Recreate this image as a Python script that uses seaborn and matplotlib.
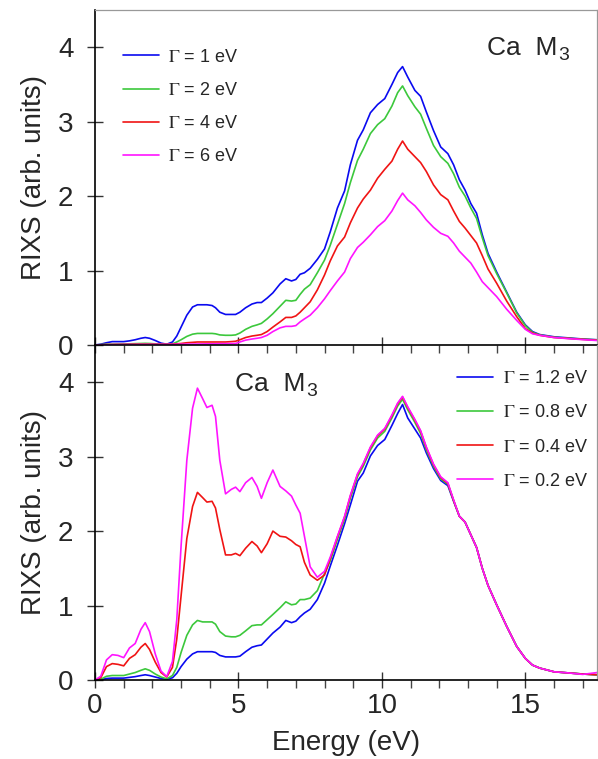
import numpy as np
import pandas as pd
import matplotlib
matplotlib.use("Agg")
import matplotlib.pyplot as plt
from matplotlib.ticker import MultipleLocator
import seaborn as sns

# ---------------- data ----------------
energy = [0, 0.2, 0.4, 0.6, 0.8, 1.0, 1.2, 1.4, 1.6,
          1.75, 1.9, 2.1, 2.3, 2.5, 2.7, 2.85,
          3.0, 3.2, 3.4, 3.57, 3.75, 3.9, 4.08, 4.2, 4.35, 4.55, 4.75, 4.9,
          5.05, 5.25, 5.47, 5.65, 5.8, 6.0, 6.2, 6.45, 6.65, 6.85,
          7.0, 7.15, 7.3, 7.5, 7.75,
          8.0, 8.2, 8.45, 8.7, 8.9, 9.15, 9.35, 9.6, 9.85,
          10.1, 10.35, 10.55, 10.72, 10.9, 11.15, 11.35, 11.55, 11.8,
          12.05, 12.3, 12.5, 12.7, 12.9, 13.1, 13.3, 13.5, 13.7,
          14.0, 14.35, 14.7, 15.0, 15.25, 15.5, 16.0, 16.5, 17.0, 17.5]

# upper panel
top_g1 = [0.0, 0.01, 0.03, 0.045, 0.045, 0.045, 0.055, 0.07, 0.09,
          0.1, 0.09, 0.06, 0.025, 0.01, 0.04, 0.12,
          0.24, 0.4, 0.51, 0.54, 0.54, 0.54, 0.53, 0.5, 0.44, 0.41, 0.41, 0.41,
          0.44, 0.5, 0.55, 0.57, 0.57, 0.63, 0.7, 0.82, 0.89, 0.86,
          0.88, 0.95, 0.97, 1.03, 1.15,
          1.29, 1.52, 1.84, 2.07, 2.42, 2.75, 2.89, 3.12, 3.23,
          3.31, 3.5, 3.66, 3.74, 3.6, 3.42, 3.34, 3.13, 2.88,
          2.66, 2.57, 2.42, 2.22, 2.08, 1.9, 1.77, 1.48, 1.23,
          0.98, 0.71, 0.44, 0.27, 0.18, 0.14, 0.11, 0.095, 0.08, 0.07]
top_g2 = [0, 0.005, 0.01, 0.01, 0.012, 0.013, 0.015, 0.018, 0.02,
          0.022, 0.02, 0.015, 0.01, 0.008, 0.015, 0.04,
          0.07, 0.115, 0.145, 0.155, 0.155, 0.155, 0.155, 0.15, 0.135, 0.13, 0.13, 0.135,
          0.16, 0.21, 0.25, 0.27, 0.29, 0.35, 0.42, 0.52, 0.6, 0.59,
          0.6, 0.68, 0.75, 0.81, 0.97,
          1.14, 1.34, 1.62, 1.9, 2.18, 2.48, 2.63, 2.84, 2.96,
          3.04, 3.21, 3.39, 3.48, 3.35, 3.2, 3.1, 2.91, 2.68,
          2.53, 2.44, 2.3, 2.12, 2.0, 1.84, 1.7, 1.44, 1.2,
          0.96, 0.7, 0.43, 0.26, 0.17, 0.135, 0.105, 0.09, 0.078, 0.068]
top_g4 = [0, 0.003, 0.005, 0.006, 0.007, 0.008, 0.009, 0.01, 0.01,
          0.01, 0.01, 0.01, 0.01, 0.01, 0.012, 0.015,
          0.02, 0.03, 0.035, 0.04, 0.04, 0.04, 0.04, 0.04, 0.04, 0.04, 0.045, 0.05,
          0.07, 0.1, 0.12, 0.13, 0.14, 0.18, 0.24, 0.31, 0.37, 0.37,
          0.39, 0.44, 0.5, 0.58, 0.74,
          0.94, 1.13, 1.33, 1.45, 1.64, 1.84, 1.96, 2.08, 2.24,
          2.36, 2.47, 2.63, 2.74, 2.63, 2.53, 2.45, 2.33, 2.15,
          2.02, 1.95, 1.8, 1.66, 1.57, 1.47, 1.37, 1.2, 1.02,
          0.83, 0.59, 0.38, 0.22, 0.16, 0.13, 0.1, 0.088, 0.075, 0.065]
top_g6 = [0, 0.002, 0.003, 0.004, 0.005, 0.005, 0.006, 0.006, 0.007,
          0.007, 0.007, 0.007, 0.007, 0.007, 0.008, 0.009,
          0.01, 0.011, 0.012, 0.013, 0.014, 0.015, 0.015, 0.016, 0.017, 0.018, 0.019, 0.02,
          0.04, 0.065, 0.08, 0.09, 0.1, 0.13, 0.18, 0.23, 0.25, 0.25,
          0.26, 0.31, 0.35, 0.4, 0.5,
          0.62, 0.73, 0.86, 0.98, 1.16, 1.31, 1.38, 1.48, 1.59,
          1.67, 1.8, 1.94, 2.04, 1.95, 1.87, 1.78, 1.68, 1.58,
          1.5, 1.46, 1.37, 1.26, 1.18, 1.1, 0.98, 0.85, 0.77,
          0.65, 0.48, 0.33, 0.21, 0.15, 0.13, 0.1, 0.085, 0.072, 0.06]

# lower panel
bot_g12 = [0, 0.005, 0.02, 0.025, 0.025, 0.025, 0.035, 0.045, 0.06,
           0.07, 0.06, 0.04, 0.02, 0.01, 0.03, 0.09,
           0.18, 0.28, 0.35, 0.38, 0.38, 0.38, 0.38, 0.37, 0.33, 0.31, 0.31, 0.31,
           0.32, 0.38, 0.44, 0.46, 0.47, 0.55, 0.63, 0.71, 0.8, 0.77,
           0.79, 0.85, 0.9, 0.95, 1.08,
           1.3, 1.53, 1.81, 2.1, 2.35, 2.67, 2.78, 3.01, 3.15,
           3.23, 3.42, 3.58, 3.7, 3.52, 3.37, 3.25, 3.05, 2.84,
           2.68, 2.61, 2.4, 2.2, 2.12, 1.95, 1.78, 1.5, 1.27,
           1.01, 0.72, 0.45, 0.29, 0.2, 0.16, 0.11, 0.095, 0.08, 0.07]
bot_g08 = [0, 0.01, 0.05, 0.06, 0.06, 0.06, 0.08, 0.1, 0.13,
           0.15, 0.13, 0.08, 0.04, 0.015, 0.06, 0.17,
           0.37, 0.6, 0.74, 0.8, 0.78, 0.78, 0.78, 0.75, 0.65, 0.59, 0.58, 0.58,
           0.6, 0.66, 0.73, 0.74, 0.74, 0.81, 0.88, 0.97, 1.05, 1.01,
           1.02, 1.08, 1.08, 1.1, 1.2,
           1.43, 1.6, 1.89, 2.16, 2.44, 2.73, 2.87, 3.09, 3.25,
           3.34, 3.52, 3.68, 3.77, 3.63, 3.46, 3.31, 3.09, 2.87,
           2.7, 2.63, 2.41, 2.2, 2.12, 1.95, 1.78, 1.5, 1.27,
           1.01, 0.72, 0.45, 0.29, 0.2, 0.16, 0.11, 0.095, 0.08, 0.07]
bot_g04 = [0, 0.03, 0.18, 0.22, 0.21, 0.19, 0.29, 0.34, 0.44,
           0.49, 0.41, 0.24, 0.1, 0.04, 0.17, 0.55,
           1.13, 1.9, 2.33, 2.52, 2.45, 2.39, 2.4, 2.31, 2.02, 1.68, 1.68, 1.7,
           1.67, 1.77, 1.86, 1.8, 1.71, 1.83, 2.0, 1.93, 1.92, 1.87,
           1.82, 1.79, 1.58, 1.41, 1.34,
           1.41, 1.63, 1.92, 2.19, 2.47, 2.76, 2.9, 3.12, 3.28,
           3.37, 3.55, 3.71, 3.8, 3.66, 3.49, 3.34, 3.12, 2.89,
           2.72, 2.64, 2.41, 2.2, 2.12, 1.95, 1.78, 1.5, 1.27,
           1.01, 0.72, 0.45, 0.29, 0.2, 0.16, 0.11, 0.095, 0.08, 0.07]
bot_g02 = [0, 0.05, 0.27, 0.34, 0.33, 0.3, 0.43, 0.49, 0.68,
           0.77, 0.65, 0.35, 0.12, 0.045, 0.25, 0.81,
           1.8, 2.95, 3.65, 3.92, 3.78, 3.66, 3.69, 3.54, 2.95, 2.5, 2.56, 2.59,
           2.53, 2.65, 2.72, 2.6, 2.44, 2.65, 2.82, 2.6, 2.54, 2.47,
           2.35, 2.24, 1.93, 1.52, 1.38,
           1.46, 1.65, 1.93, 2.2, 2.48, 2.77, 2.91, 3.13, 3.29,
           3.38, 3.56, 3.72, 3.81, 3.67, 3.5, 3.35, 3.13, 2.9,
           2.73, 2.65, 2.42, 2.2, 2.12, 1.95, 1.78, 1.5, 1.27,
           1.01, 0.72, 0.45, 0.29, 0.2, 0.16, 0.11, 0.095, 0.075, 0.1]

top_labels = [r"$\Gamma$ = 1 eV", r"$\Gamma$ = 2 eV", r"$\Gamma$ = 4 eV", r"$\Gamma$ = 6 eV"]
bot_labels = [r"$\Gamma$ = 1.2 eV", r"$\Gamma$ = 0.8 eV", r"$\Gamma$ = 0.4 eV", r"$\Gamma$ = 0.2 eV"]
colors = ["#0a0af0", "#3cc83c", "#f01414", "#ff14ff"]

x_ticks = [0, 5, 10, 15]
y_ticks = [0, 1, 2, 3, 4]

# ---------------- style ----------------
sns.set_style("ticks")
plt.rcParams["font.family"] = ["Liberation Sans", "DejaVu Sans"]
plt.rcParams["mathtext.fontset"] = "stix"


def long_frame(series, labels):
    frames = []
    for vals, lab in zip(series, labels):
        frames.append(pd.DataFrame({"energy": energy, "rixs": vals, "gamma": lab}))
    return pd.concat(frames, ignore_index=True)


df_top = long_frame([top_g1, top_g2, top_g4, top_g6], top_labels)
df_bot = long_frame([bot_g12, bot_g08, bot_g04, bot_g02], bot_labels)

fig = plt.figure(figsize=(5.98, 7.59), dpi=100)
ax1 = fig.add_axes([0.1589, 0.5455, 0.8395, 0.4413])
ax2 = fig.add_axes([0.1589, 0.1041, 0.8395, 0.4414], sharex=ax1)
ax2.patch.set_alpha(0)

for ax, df, labels in [(ax1, df_top, top_labels), (ax2, df_bot, bot_labels)]:
    sns.lineplot(data=df, x="energy", y="rixs", hue="gamma", hue_order=labels,
                 palette=colors, estimator=None, linewidth=1.2, legend=False, ax=ax)
    for ln in ax.get_lines():
        ln.set_solid_joinstyle("round")
    ax.set_xlim(0, 17.5)
    ax.set_ylim(0, 4.5)
    ax.set_yticks(y_ticks)
    ax.set_xticks(x_ticks)
    ax.xaxis.set_minor_locator(MultipleLocator(1))
    ax.set_ylabel("RIXS (arb. units)", fontsize=20, labelpad=8)
    ax.tick_params(axis="y", which="major", direction="inout", length=12, width=1.0,
                   labelsize=20, pad=9.5, color="#333333", left=True, right=False)
    ax.tick_params(axis="x", which="major", direction="inout", length=11, width=1.0,
                   labelsize=20, pad=4, color="#333333", top=False)
    ax.tick_params(axis="x", which="minor", direction="out", length=6, width=1.0,
                   color="#444444", top=False)
    for s in ["left", "bottom"]:
        ax.spines[s].set_color("black")
        ax.spines[s].set_linewidth(1.2)
    for s in ["top", "right"]:
        ax.spines[s].set_color("#999999")
        ax.spines[s].set_linewidth(0.9)

ax1.tick_params(axis="x", labelbottom=False)
ax1.set_xlabel("")
ax2.spines["top"].set_visible(False)
ax2.set_xlabel("Energy (eV)", fontsize=20, labelpad=7.5)

leg1 = ax1.legend(ax1.get_lines()[:4], top_labels, loc="upper left",
                  bbox_to_anchor=(0.042, 0.906), frameon=False, fontsize=13,
                  handlelength=1.95, handletextpad=0.5, labelspacing=0.9,
                  borderaxespad=0, borderpad=0.4)
leg2 = ax2.legend(ax2.get_lines()[:4], bot_labels, loc="upper left",
                  bbox_to_anchor=(0.706, 0.946), frameon=False, fontsize=13,
                  handlelength=2.0, handletextpad=0.55, labelspacing=0.95,
                  borderaxespad=0, borderpad=0.4)

t1 = ax1.text(0.781, 0.866, "Ca  M", transform=ax1.transAxes, fontsize=19,
              ha="left", va="baseline")
ax1.annotate("3", xy=(1.0, 0.0), xycoords=t1, xytext=(0.5, -3), textcoords="offset points",
             fontsize=14, ha="left", va="bottom")
t2 = ax2.text(0.279, 0.863, "Ca  M", transform=ax2.transAxes, fontsize=19,
              ha="left", va="baseline")
ax2.annotate("3", xy=(1.0, 0.0), xycoords=t2, xytext=(0.5, -3), textcoords="offset points",
             fontsize=14, ha="left", va="bottom")

fig.savefig("out.png", dpi=100, facecolor="white")
